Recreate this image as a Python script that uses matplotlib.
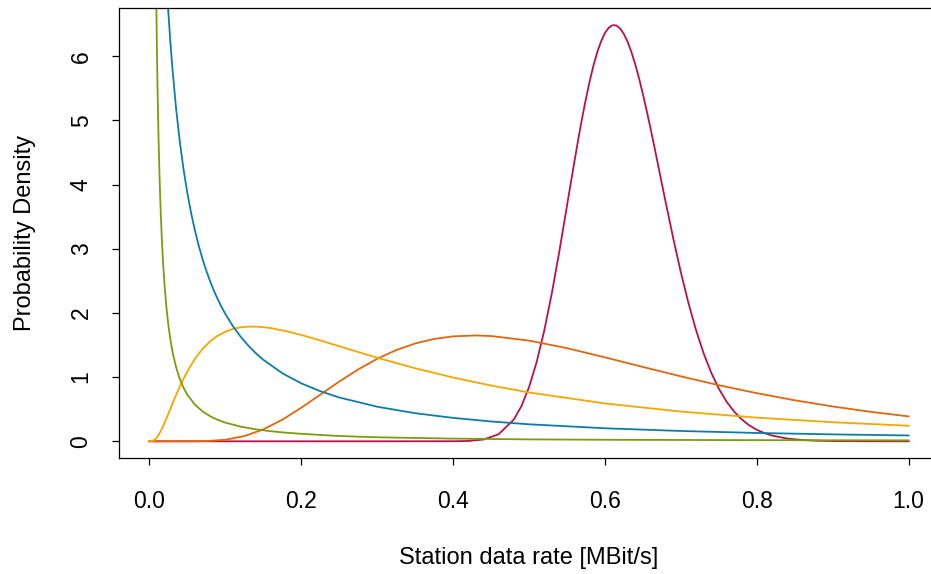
import matplotlib
matplotlib.use("Agg")
import matplotlib.pyplot as plt

plt.rcParams['font.family'] = ['Liberation Sans', 'DejaVu Sans']

# === densities ===

crimson_x = [0.0, 0.30, 0.40, 0.42, 0.44, 0.46, 0.48, 0.49, 0.50, 0.51, 0.52, 0.53, 0.54,
             0.55, 0.555, 0.56, 0.565, 0.57, 0.575, 0.58, 0.585, 0.59, 0.595, 0.60, 0.605,
             0.61, 0.615, 0.62, 0.625, 0.63, 0.635, 0.64, 0.645, 0.65, 0.655, 0.66, 0.665,
             0.67, 0.675, 0.68, 0.69, 0.70, 0.71, 0.72, 0.73, 0.74, 0.75, 0.76, 0.77, 0.78,
             0.79, 0.80, 0.81, 0.82, 0.84, 0.86, 0.88, 0.90, 0.95, 1.0]
crimson_y = [0.0, 0.0, 0.001, 0.005, 0.028, 0.110, 0.339, 0.548, 0.842, 1.231, 1.721, 2.303, 2.962,
             3.667, 4.021, 4.372, 4.713, 5.037, 5.338, 5.614, 5.859, 6.066, 6.232, 6.360, 6.443,
             6.482, 6.478, 6.431, 6.344, 6.219, 6.059, 5.869, 5.651, 5.410, 5.150, 4.878, 4.595,
             4.306, 4.013, 3.725, 3.160, 2.632, 2.154, 1.732, 1.370, 1.069, 0.821, 0.621, 0.465, 0.343,
             0.249, 0.179, 0.128, 0.090, 0.043, 0.020, 0.009, 0.004, 0.0005, 0.0]

orange_x = [0.0, 0.05, 0.075, 0.10, 0.125, 0.15, 0.175, 0.20, 0.225, 0.25, 0.275, 0.30, 0.325,
            0.35, 0.375, 0.40, 0.43, 0.45, 0.50, 0.55, 0.60, 0.65, 0.70, 0.75, 0.80, 0.85,
            0.90, 0.95, 1.0]
orange_y = [0.0, 0.0002, 0.004, 0.024, 0.081, 0.185, 0.336, 0.522, 0.726, 0.930, 1.120, 1.285, 1.421,
            1.524, 1.595, 1.635, 1.649, 1.640, 1.569, 1.451, 1.308, 1.158, 1.012, 0.874, 0.750, 0.639,
            0.543, 0.459, 0.388]

yellow_x = [0.0, 0.005, 0.01, 0.015, 0.02, 0.025, 0.03, 0.035, 0.04, 0.045, 0.05, 0.06, 0.07,
            0.08, 0.09, 0.10, 0.11, 0.12, 0.13, 0.14, 0.15, 0.16, 0.18, 0.20, 0.22, 0.25,
            0.30, 0.35, 0.40, 0.45, 0.50, 0.60, 0.70, 0.80, 0.90, 1.0]
yellow_y = [0.0, 0.008, 0.060, 0.159, 0.287, 0.430, 0.574, 0.717, 0.851, 0.975, 1.088, 1.285, 1.440,
            1.557, 1.645, 1.707, 1.750, 1.775, 1.786, 1.787, 1.778, 1.763, 1.716, 1.657, 1.589, 1.481,
            1.302, 1.138, 0.994, 0.869, 0.761, 0.590, 0.463, 0.369, 0.297, 0.242]

blue_x = [0.020, 0.021, 0.0235, 0.025, 0.0275, 0.03, 0.035, 0.04, 0.045, 0.05, 0.055, 0.06,
          0.065, 0.07, 0.075, 0.08, 0.085, 0.09, 0.095, 0.10, 0.11, 0.12, 0.13, 0.14, 0.15,
          0.175, 0.20, 0.225, 0.25, 0.30, 0.35, 0.40, 0.45, 0.50, 0.60, 0.70, 0.80, 0.90, 1.0]
blue_y = [7.77, 7.53, 6.98, 6.686, 6.246, 5.857, 5.205, 4.675, 4.237, 3.868, 3.555, 3.284,
          3.048, 2.840, 2.657, 2.493, 2.346, 2.214, 2.094, 1.985, 1.794, 1.633, 1.494, 1.375, 1.271,
          1.061, 0.903, 0.781, 0.683, 0.539, 0.438, 0.365, 0.309, 0.265, 0.203, 0.161, 0.130, 0.108, 0.091]

green_x = [0.0085, 0.009, 0.010, 0.011, 0.012, 0.013, 0.014, 0.015, 0.0165, 0.018, 0.020, 0.0225,
           0.025, 0.028, 0.031, 0.035, 0.040, 0.045, 0.050, 0.060, 0.070, 0.080, 0.090, 0.10,
           0.12, 0.14, 0.16, 0.18, 0.20, 0.25, 0.30, 0.40, 0.50, 0.60, 0.70, 0.80, 0.90, 1.0]
green_y = [7.50, 6.96, 6.06, 5.34, 4.76, 4.29, 3.89, 3.55, 3.13, 2.79, 2.43, 2.08,
           1.81, 1.56, 1.363, 1.162, 0.974, 0.834, 0.726, 0.571, 0.466, 0.391, 0.335, 0.291,
           0.229, 0.187, 0.157, 0.134, 0.117, 0.082, 0.063, 0.042, 0.030, 0.024, 0.021, 0.018, 0.016, 0.015]

x_ticks = [0.0, 0.2, 0.4, 0.6, 0.8, 1.0]
x_tick_labels = ['0.0', '0.2', '0.4', '0.6', '0.8', '1.0']
y_ticks = [0, 1, 2, 3, 4, 5, 6]

# === plot ===

fig = plt.figure(figsize=(9.31, 5.74), dpi=100)
# the box runs past the right edge of the picture, as in the reference
ax = fig.add_axes([119 / 931, 1 - 458 / 574, 820 / 931, (458 - 8) / 574])

lw = 1.3
ax.plot(crimson_x, crimson_y, color='#B8124C', lw=lw)
ax.plot(orange_x, orange_y, color='#E2660E', lw=lw)
ax.plot(yellow_x, yellow_y, color='#F6A600', lw=lw)
ax.plot(blue_x, blue_y, color='#0E7DA6', lw=lw)
ax.plot(green_x, green_y, color='#7A9D0C', lw=lw)

ax.set_xlim(-0.04, 1.04)
ax.set_ylim(-0.26, 6.75)

ax.set_xticks(x_ticks)
ax.set_xticklabels(x_tick_labels)
ax.set_yticks(y_ticks)
ax.set_yticklabels([str(v) for v in y_ticks], rotation=90, va='center')

ax.tick_params(axis='both', direction='out', length=5, width=0.9, labelsize=16.5)
ax.tick_params(axis='x', pad=18)
ax.tick_params(axis='y', pad=14)
for s in ax.spines.values():
    s.set_linewidth(0.9)

ax.set_xlabel('Station data rate [MBit/s]', fontsize=17, labelpad=24.5)
ax.set_ylabel('Probability Density', fontsize=17, labelpad=24)

fig.savefig('out.png', dpi=100)
